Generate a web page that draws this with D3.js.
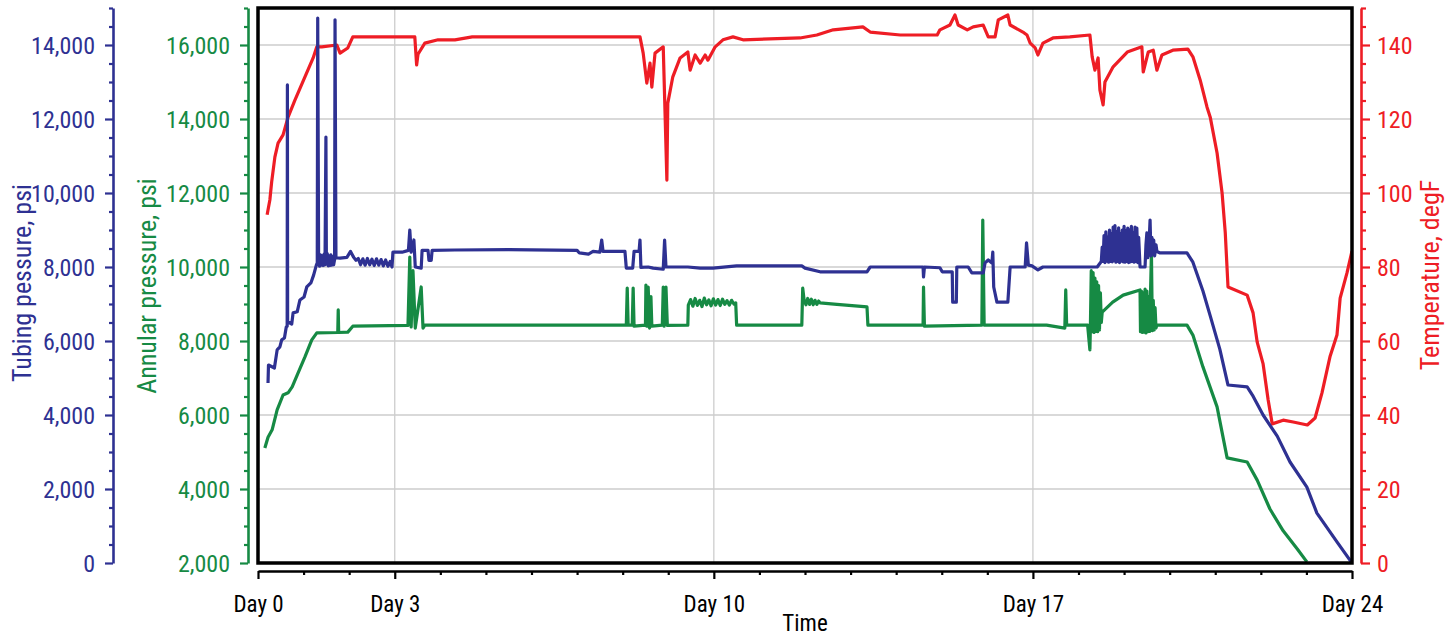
<!DOCTYPE html>
<html lang="en">
<head>
<meta charset="utf-8">
<title>Tubing, annular pressure and temperature</title>
<script src="https://d3js.org/d3.v7.min.js"></script>
<style>
  body { margin: 0; background: #fff; }
  text { font-family: "Roboto Condensed", "DejaVu Sans Condensed", sans-serif; }
</style>
</head>
<body>
<div id="chart"></div>
<script>
// [day, psi]
const tubingPressure = [
  [0.22, 4865], [0.23, 5350], [0.36, 5270], [0.42, 5760], [0.48, 5840], [0.52, 6030], [0.58, 6080],
  [0.62, 6380], [0.64, 6400], [0.645, 12920], [0.65, 6520], [0.74, 6460], [0.77, 6760], [0.86, 6790],
  [0.92, 7110], [1.01, 7190], [1.07, 7460], [1.16, 7570], [1.22, 7780], [1.28, 8050], [1.30, 8110],
  [1.31, 14730], [1.33, 8200], [1.35, 8020], [1.37, 8330], [1.39, 8050], [1.41, 8300], [1.43, 8040],
  [1.45, 8350], [1.47, 8060], [1.49, 11510], [1.50, 8150], [1.52, 8360], [1.54, 8030], [1.56, 8300],
  [1.58, 8040], [1.60, 8330], [1.62, 8050], [1.64, 8280], [1.66, 8060], [1.68, 8200], [1.69, 14680],
  [1.71, 8250], [1.80, 8240], [1.95, 8260], [2.03, 8420], [2.10, 8260], [2.15, 8180], [2.20, 8230],
  [2.25, 8060], [2.30, 8220], [2.35, 8050], [2.40, 8230], [2.45, 8060], [2.50, 8210], [2.55, 8040],
  [2.60, 8220], [2.65, 8050], [2.70, 8200], [2.75, 8030], [2.80, 8190], [2.85, 8020], [2.90, 8150],
  [2.94, 8000], [2.96, 8400], [3.16, 8400], [3.30, 8450], [3.33, 9000], [3.36, 8400], [3.42, 8730],
  [3.45, 8000], [3.58, 7970], [3.60, 8450], [3.73, 8450], [3.75, 8180], [3.80, 8180], [3.82, 8450],
  [4.32, 8460], [5.50, 8470], [7.00, 8450], [7.05, 8380], [7.25, 8350], [7.35, 8420], [7.50, 8400],
  [7.54, 8730], [7.57, 8420], [8.05, 8420], [8.08, 7970], [8.22, 7970], [8.25, 8420], [8.36, 8420],
  [8.38, 8730], [8.40, 7990], [8.56, 8000], [8.67, 7970], [8.89, 7940], [8.92, 8730], [8.95, 8000],
  [9.43, 8000], [9.70, 7970], [9.98, 7970], [10.50, 8030], [11.93, 8030], [12.00, 7970], [12.33, 7870],
  [13.36, 7870], [13.43, 8000], [14.59, 8000], [14.60, 7730], [14.62, 8000], [14.96, 7980], [15.01, 7870],
  [15.23, 7870], [15.24, 7050], [15.32, 7050], [15.33, 8000], [15.58, 8000], [15.66, 7840], [15.91, 7840],
  [15.95, 8110], [16.02, 8190], [16.10, 8110], [16.12, 8400], [16.14, 7460], [16.21, 7050], [16.45, 7050],
  [16.50, 8000], [16.83, 8000], [16.86, 8650], [16.90, 8050], [16.98, 8030], [17.11, 7920], [17.22, 8000],
  [18.41, 8000], [18.50, 8150], [18.52, 8540], [18.54, 8150], [18.56, 8850], [18.58, 8120], [18.60, 8950],
  [18.62, 8160], [18.64, 8800], [18.66, 8130], [18.68, 9000], [18.70, 8150], [18.72, 8900], [18.74, 8140],
  [18.76, 9080], [18.78, 8170], [18.80, 9120], [18.82, 8130], [18.84, 8950], [18.86, 8150], [18.88, 9060],
  [18.90, 8120], [18.92, 8900], [18.94, 8160], [18.96, 9000], [18.98, 8140], [19.00, 9100], [19.02, 8130],
  [19.04, 8980], [19.06, 8150], [19.08, 9050], [19.10, 8120], [19.12, 9000], [19.14, 8140], [19.16, 9100],
  [19.18, 8150], [19.20, 8920], [19.22, 8130], [19.24, 9080], [19.26, 8150], [19.28, 9050], [19.30, 8120],
  [19.32, 8800], [19.35, 8000], [19.46, 8000], [19.48, 8600], [19.50, 8920], [19.52, 8250], [19.55, 8700],
  [19.57, 9270], [19.59, 8300], [19.61, 8800], [19.63, 8350], [19.65, 8730], [19.67, 8300], [19.70, 8600],
  [19.72, 8420], [19.79, 8380], [20.38, 8380], [20.51, 8130], [20.73, 7350], [20.89, 6680], [21.10, 5780],
  [21.28, 4810], [21.70, 4760], [21.83, 4510], [22.05, 4000], [22.36, 3430], [22.64, 2730], [23.01, 2050],
  [23.23, 1350], [23.67, 570], [24.00, 0]
];

// [day, psi]
const annularPressure = [
  [0.15, 5110], [0.22, 5400], [0.31, 5600], [0.42, 6140], [0.55, 6540], [0.66, 6600], [0.75, 6760],
  [0.88, 7140], [1.03, 7570], [1.18, 8030], [1.29, 8220], [1.75, 8230], [1.76, 8840], [1.77, 8230],
  [1.97, 8240], [2.08, 8400], [3.29, 8420], [3.33, 10270], [3.36, 8380], [3.40, 9900], [3.45, 8350],
  [3.58, 9460], [3.62, 8350], [3.66, 8430], [8.08, 8430], [8.10, 9430], [8.12, 8430], [8.21, 8430],
  [8.23, 9430], [8.25, 8400], [8.50, 8430], [8.51, 9510], [8.53, 8400], [8.56, 9460], [8.59, 8350],
  [8.62, 9200], [8.64, 8400], [8.87, 8430], [8.89, 9460], [8.91, 8400], [8.95, 9460], [8.98, 8420],
  [9.43, 8430], [9.44, 8970], [9.49, 9120], [9.54, 8940], [9.59, 9150], [9.64, 8960], [9.69, 9100],
  [9.74, 8930], [9.79, 9160], [9.84, 8980], [9.89, 9110], [9.94, 8950], [9.99, 9140], [10.04, 8970],
  [10.09, 9120], [10.14, 8960], [10.19, 9130], [10.24, 8990], [10.29, 9090], [10.34, 8970], [10.39, 9100],
  [10.44, 9000], [10.48, 9030], [10.50, 8430], [11.93, 8430], [11.95, 9430], [11.98, 9110], [12.02, 8980],
  [12.06, 9150], [12.10, 8990], [12.14, 9130], [12.18, 8980], [12.22, 9100], [12.26, 8990], [12.30, 9080],
  [12.33, 9030], [12.70, 8990], [13.36, 8920], [13.38, 8430], [14.59, 8430], [14.60, 9460], [14.62, 8400],
  [15.88, 8430], [15.90, 11270], [15.93, 8430], [17.30, 8430], [17.70, 8350], [17.72, 9380], [17.74, 8430],
  [18.20, 8430], [18.25, 7760], [18.26, 8300], [18.28, 9900], [18.30, 8250], [18.32, 9850], [18.34, 8230],
  [18.36, 9700], [18.38, 8260], [18.40, 9600], [18.42, 8250], [18.44, 9500], [18.46, 8300], [18.48, 9300],
  [18.50, 8500], [18.52, 8780], [18.75, 9050], [18.98, 9240], [19.35, 9380], [19.36, 8250], [19.38, 9350],
  [19.40, 8230], [19.42, 9300], [19.44, 8240], [19.46, 9400], [19.48, 8220], [19.50, 9350], [19.52, 8250],
  [19.54, 9200], [19.56, 8260], [19.58, 9300], [19.60, 10380], [19.62, 8280], [19.64, 9100], [19.66, 8300],
  [19.68, 8900], [19.70, 8350], [19.72, 8430], [20.38, 8430], [20.51, 8160], [20.73, 7300], [21.04, 6220],
  [21.26, 4840], [21.70, 4730], [21.92, 4240], [22.20, 3460], [22.49, 2870], [22.80, 2380], [23.01, 2030]
];

// [day, degF]
const temperature = [
  [0.20, 94.1], [0.26, 98.1], [0.30, 103.0], [0.37, 109.7], [0.44, 113.5], [0.55, 115.7], [0.66, 120.5],
  [0.81, 125.1], [1.03, 131.4], [1.21, 136.5], [1.29, 139.5], [1.40, 139.5], [1.73, 140.0], [1.80, 137.8],
  [1.97, 139.2], [2.08, 142.2], [3.44, 142.2], [3.48, 134.6], [3.51, 137.5], [3.66, 140.5], [3.95, 141.4],
  [4.32, 141.4], [4.70, 142.2], [8.38, 142.2], [8.45, 137.8], [8.53, 129.7], [8.60, 135.1], [8.64, 128.6],
  [8.71, 137.8], [8.89, 139.5], [8.97, 103.5], [8.99, 124.3], [9.10, 131.4], [9.26, 136.5], [9.43, 138.1],
  [9.48, 133.2], [9.59, 137.3], [9.70, 135.1], [9.81, 137.3], [9.87, 135.9], [10.03, 139.5], [10.20, 141.4],
  [10.42, 142.2], [10.64, 141.4], [11.89, 141.9], [12.26, 142.7], [12.62, 144.1], [13.27, 144.9],
  [13.43, 143.5], [14.09, 142.7], [14.90, 142.7], [14.96, 144.1], [15.18, 145.4], [15.29, 148.1],
  [15.36, 145.4], [15.56, 144.1], [15.69, 144.9], [15.91, 145.4], [16.02, 142.2], [16.17, 142.2],
  [16.24, 146.8], [16.45, 148.1], [16.50, 145.4], [16.78, 143.5], [16.87, 142.7], [16.94, 140.5],
  [17.05, 139.2], [17.11, 137.3], [17.22, 140.5], [17.44, 141.9], [17.81, 142.2], [18.25, 142.7],
  [18.30, 136.8], [18.36, 133.2], [18.43, 136.5], [18.47, 127.8], [18.54, 123.8], [18.58, 130.0],
  [18.76, 134.1], [19.07, 138.1], [19.39, 139.5], [19.42, 132.7], [19.53, 138.1], [19.64, 138.6],
  [19.72, 133.2], [19.83, 137.3], [20.07, 138.6], [20.40, 138.9], [20.51, 136.8], [20.67, 130.5],
  [20.82, 123.2], [20.89, 120.5], [21.04, 110.8], [21.15, 100.0], [21.22, 89.2], [21.28, 74.6],
  [21.70, 72.4], [21.83, 67.6], [21.92, 59.7], [22.05, 53.8], [22.16, 44.1], [22.25, 37.6], [22.49, 38.6],
  [22.71, 38.1], [23.02, 37.3], [23.19, 39.2], [23.34, 45.9], [23.52, 55.9], [23.67, 61.6], [23.74, 71.6],
  [23.89, 78.4], [24.00, 84.3]
];

const dayTicks = [0, 3, 10, 17, 24];
const dayLabels = ['Day 0', 'Day 3', 'Day 10', 'Day 17', 'Day 24'];
const gridDays = [3, 10, 17];

const width = 1455
const height = 636
const plotLeft = 258, plotRight = 1352, plotTop = 8, plotBottom = 563

const blue = '#2e3192', green = '#168a44', red = '#ee1d25'
const fmt = d3.format(',')

const svg = d3.select('#chart').append('svg')
  .attr('width', width)
  .attr('height', height)

const x = d3.scaleLinear().domain([0, 24]).range([plotLeft, plotRight])
const yTub = d3.scaleLinear().domain([0, 15000]).range([plotBottom, plotTop])
const yAnn = d3.scaleLinear().domain([2000, 17000]).range([plotBottom, plotTop])
const yTemp = d3.scaleLinear().domain([0, 150]).range([plotBottom, plotTop])

// grid
const grid = svg.append('g')
grid.selectAll('.hg')
  .data(d3.range(2000, 14001, 2000))
  .enter().append('line')
  .attr('x1', plotLeft).attr('x2', plotRight)
  .attr('y1', d => yTub(d)).attr('y2', d => yTub(d))
  .attr('stroke', '#cdcdcd').attr('stroke-width', 1.3)
grid.selectAll('.vg')
  .data(gridDays)
  .enter().append('line')
  .attr('x1', d => x(d)).attr('x2', d => x(d))
  .attr('y1', plotTop).attr('y2', plotBottom)
  .attr('stroke', '#cdcdcd').attr('stroke-width', 1.3)

// lines
svg.append('clipPath').attr('id', 'clip')
  .append('rect').attr('x', plotLeft).attr('y', plotTop)
  .attr('width', plotRight - plotLeft).attr('height', plotBottom - plotTop)

const plot = svg.append('g').attr('clip-path', 'url(#clip)')

const series = [
  { data: temperature, y: yTemp, color: red },
  { data: annularPressure, y: yAnn, color: green },
  { data: tubingPressure, y: yTub, color: blue }
]
series.forEach(s => {
  plot.append('path')
    .datum(s.data)
    .attr('fill', 'none')
    .attr('stroke', s.color)
    .attr('stroke-width', 3.2)
    .attr('stroke-linejoin', 'round')
    .attr('d', d3.line().x(d => x(d[0])).y(d => s.y(d[1])))
})

// frame
svg.append('rect')
  .attr('x', plotLeft).attr('y', plotTop)
  .attr('width', plotRight - plotLeft).attr('height', plotBottom - plotTop)
  .attr('fill', 'none').attr('stroke', '#000').attr('stroke-width', 3.5)

function styleAxis(g, color) {
  g.select('.domain').attr('stroke', color).attr('stroke-width', 2.6)
  g.selectAll('.tick line')
    .attr('stroke', color).attr('stroke-width', 2.2)
  g.selectAll('.tick text')
    .attr('fill', color)
    .style('font-size', '24px')
}

// tubing axis
const tubAxis = svg.append('g')
  .attr('transform', 'translate(113,0)')
  .call(d3.axisLeft(yTub)
    .tickValues(d3.range(0, 15001, 500))
    .tickFormat(d => d % 2000 === 0 ? fmt(d) : '')
    .tickSizeOuter(0))
styleAxis(tubAxis, blue)
tubAxis.selectAll('.tick line').attr('x2', d => d % 2000 === 0 ? -8 : -4)
tubAxis.selectAll('.tick text').attr('x', -18).attr('dy', '0.36em')

// annular axis
const annAxis = svg.append('g')
  .attr('transform', 'translate(248,0)')
  .call(d3.axisLeft(yAnn)
    .tickValues(d3.range(2000, 17001, 500))
    .tickFormat(d => d % 2000 === 0 ? fmt(d) : '')
    .tickSizeOuter(0))
styleAxis(annAxis, green)
annAxis.selectAll('.tick line').attr('x2', d => d % 2000 === 0 ? -8 : -4)
annAxis.selectAll('.tick text').attr('x', -18).attr('dy', '0.36em')

// temperature axis
const tempAxis = svg.append('g')
  .attr('transform', 'translate(1361,0)')
  .call(d3.axisRight(yTemp)
    .tickValues(d3.range(0, 151, 5))
    .tickFormat(d => d % 20 === 0 ? d : '')
    .tickSizeOuter(0))
styleAxis(tempAxis, red)
tempAxis.selectAll('.tick line').attr('x2', d => d % 20 === 0 ? 9 : 5)
tempAxis.selectAll('.tick text').attr('x', 16).attr('dy', '0.36em')

// time axis
const timeAxis = svg.append('g')
  .attr('transform', `translate(0,${plotBottom + 8})`)
  .call(d3.axisBottom(x)
    .tickValues(d3.range(0, 25, 1))
    .tickFormat(d => {
      const i = dayTicks.indexOf(d)
      return i >= 0 ? dayLabels[i] : ''
    })
    .tickSizeOuter(0))
styleAxis(timeAxis, '#000')
timeAxis.selectAll('.tick line').attr('y2', d => dayTicks.includes(d) ? 8 : 4)
timeAxis.selectAll('.tick text').attr('y', 41).attr('dy', 0).style('font-size', '23px')

// axis titles
svg.append('text')
  .attr('transform', 'translate(31,283) rotate(-90)')
  .attr('text-anchor', 'middle')
  .attr('fill', blue).style('font-size', '26px')
  .text('Tubing pessure, psi')
svg.append('text')
  .attr('transform', 'translate(156,286) rotate(-90)')
  .attr('text-anchor', 'middle')
  .attr('fill', green).style('font-size', '26px')
  .text('Annular pressure, psi')
svg.append('text')
  .attr('transform', 'translate(1439,275) rotate(-90)')
  .attr('text-anchor', 'middle')
  .attr('fill', red).style('font-size', '26px')
  .text('Temperature, degF')
svg.append('text')
  .attr('x', (plotLeft + plotRight) / 2).attr('y', 631)
  .attr('text-anchor', 'middle')
  .attr('fill', '#000').style('font-size', '23px')
  .text('Time')
</script>
</body>
</html>
